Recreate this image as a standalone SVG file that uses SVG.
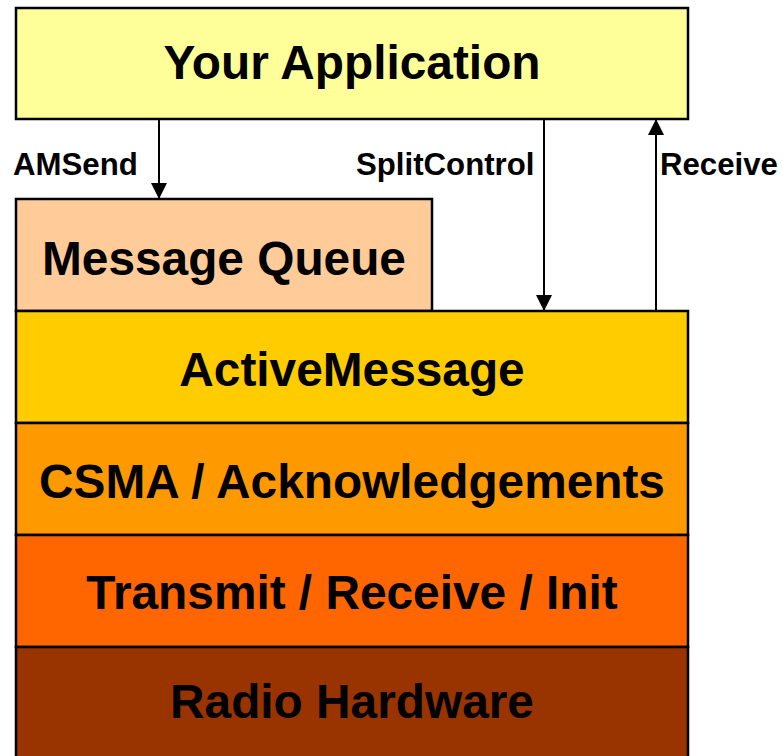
<svg xmlns="http://www.w3.org/2000/svg" width="782" height="756" viewBox="0 0 782 756">
  <style>
    .box { stroke: #000; stroke-width: 2.5; }
    .title { font-family: "Liberation Sans", Arial, sans-serif; font-weight: bold; font-size: 47.8px; fill: #000; text-anchor: middle; }
    .lbl { font-family: "Liberation Sans", Arial, sans-serif; font-weight: bold; font-size: 31.2px; fill: #000; }
    .wire { stroke: #000; stroke-width: 2; fill: none; marker-end: url(#arrow); }
  </style>
  <defs>
    <marker id="arrow" viewBox="0 0 16 16" refX="16" refY="8" markerWidth="16" markerHeight="16" markerUnits="userSpaceOnUse" orient="auto">
      <path d="M0,0 L16,8 L0,16 Z" fill="#000"/>
    </marker>
  </defs>
  <rect width="782" height="756" fill="#fff"/>

  <g id="app">
    <rect class="box" x="16" y="8" width="672" height="111" fill="#FFFF99"/>
    <text class="title" x="352" y="79">Your Application</text>
  </g>

  <g id="queue">
    <rect class="box" x="16" y="199" width="416" height="112" fill="#FFCC99"/>
    <text class="title" x="224" y="275">Message Queue</text>
  </g>

  <g id="activemessage">
    <rect class="box" x="16" y="311" width="672" height="112" fill="#FFCC00"/>
    <text class="title" x="352" y="386">ActiveMessage</text>
  </g>

  <g id="csma">
    <rect class="box" x="16" y="423" width="672" height="112" fill="#FF9900"/>
    <text class="title" x="352" y="498">CSMA / Acknowledgements</text>
  </g>

  <g id="txrx">
    <rect class="box" x="16" y="535" width="672" height="112" fill="#FF6600"/>
    <text class="title" x="352" y="609">Transmit / Receive / Init</text>
  </g>

  <g id="radio">
    <rect class="box" x="16" y="647" width="672" height="120" fill="#993300"/>
    <text class="title" x="352" y="718">Radio Hardware</text>
  </g>

  <g id="connectors">
    <line class="wire" x1="159" y1="119" x2="159" y2="199"/>
    <line class="wire" x1="544" y1="119" x2="544" y2="311"/>
    <line class="wire" x1="656" y1="311" x2="656" y2="119"/>
    <text class="lbl" x="13" y="175">AMSend</text>
    <text class="lbl" x="356" y="175">SplitControl</text>
    <text class="lbl" x="660" y="175">Receive</text>
  </g>
</svg>
